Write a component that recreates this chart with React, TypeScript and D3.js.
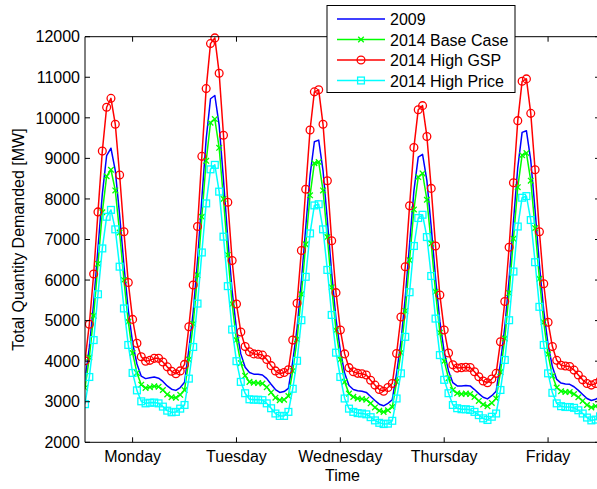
import React from 'react';
import * as d3 from 'd3';

// Hour index (1..120) covering Monday..Friday
const hours: number[] = Array.from({ length: 120 }, (_, i) => i + 1);
const dayTickHours = [12, 36, 60, 84, 108];
const dayLabels = ['Monday', 'Tuesday', 'Wednesday', 'Thursday', 'Friday'];
const yTicks = [2000, 3000, 4000, 5000, 6000, 7000, 8000, 9000, 10000, 11000, 12000];
const seriesNames = ['2009', '2014 Base Case', '2014 High GSP', '2014 High Price'];

const demand2009 = [
  3540, 4340, 5430, 6790, 8120, 9070, 9250, 8700, 7600, 6360, 5260, 4450, 3930, 3630, 3570, 3590, 3610, 3580, 3500, 3390, 3310, 3280, 3350, 3480,
  4290, 5210, 6480, 8010, 9480, 10470, 10550, 9820, 8470, 7010, 5730, 4790, 4180, 3850, 3720, 3680, 3680, 3660, 3570, 3430, 3300, 3230, 3250, 3330,
  3990, 4810, 5970, 7290, 8580, 9410, 9450, 8700, 7480, 6170, 5040, 4260, 3700, 3400, 3300, 3270, 3260, 3230, 3130, 3030, 2940, 2900, 2960, 3050,
  3700, 4480, 5570, 6890, 8200, 9030, 9100, 8450, 7310, 6050, 4980, 4230, 3760, 3470, 3390, 3390, 3400, 3390, 3300, 3200, 3110, 3070, 3150, 3260,
  3960, 4840, 6020, 7440, 8780, 9640, 9680, 8950, 7720, 6380, 5250, 4410, 3860, 3550, 3460, 3440, 3430, 3370, 3280, 3180, 3080, 3030, 3060, 3130,
];

const demandBase2014 = [
  3340, 4090, 5120, 6400, 7670, 8560, 8720, 8210, 7170, 6000, 4970, 4200, 3710, 3420, 3340, 3360, 3380, 3370, 3290, 3180, 3110, 3100, 3170, 3290,
  4040, 4920, 6120, 7560, 8940, 9880, 9970, 9260, 8000, 6620, 5410, 4520, 3950, 3640, 3490, 3470, 3460, 3450, 3360, 3230, 3100, 3040, 3050, 3140,
  3760, 4540, 5650, 6880, 8090, 8880, 8910, 8210, 7060, 5820, 4760, 4040, 3490, 3200, 3120, 3080, 3070, 3050, 2960, 2860, 2780, 2750, 2790, 2870,
  3490, 4210, 5240, 6490, 7740, 8540, 8630, 7980, 6900, 5710, 4700, 4000, 3580, 3290, 3210, 3190, 3200, 3190, 3120, 3020, 2930, 2890, 2970, 3080,
  3730, 4560, 5680, 7020, 8290, 9080, 9130, 8450, 7280, 6030, 4960, 4170, 3640, 3350, 3260, 3240, 3240, 3190, 3110, 3020, 2920, 2860, 2890, 2970,
];

const demandHighGSP = [
  4010, 4910, 6150, 7680, 9180, 10260, 10480, 9840, 8590, 7190, 5940, 5030, 4440, 4110, 4000, 4020, 4070, 4070, 3980, 3860, 3750, 3690, 3760, 3920,
  4850, 5880, 7320, 9050, 10720, 11830, 11970, 11100, 9570, 7920, 6480, 5410, 4720, 4360, 4230, 4180, 4170, 4150, 4040, 3890, 3760, 3690, 3720, 3790,
  4520, 5430, 6730, 8240, 9700, 10640, 10690, 9840, 8450, 6970, 5690, 4770, 4180, 3840, 3740, 3700, 3690, 3660, 3530, 3410, 3300, 3260, 3350, 3450,
  4190, 5090, 6330, 7830, 9270, 10200, 10300, 9540, 8260, 6840, 5630, 4770, 4200, 3910, 3830, 3840, 3850, 3845, 3740, 3615, 3510, 3470, 3560, 3700,
  4480, 5470, 6810, 8400, 9930, 10900, 10960, 10110, 8720, 7190, 5910, 4960, 4360, 4020, 3900, 3880, 3870, 3780, 3660, 3540, 3450, 3410, 3450, 3520,
];

const demandHighPrice = [
  2940, 3610, 4520, 5650, 6780, 7560, 7730, 7250, 6330, 5300, 4400, 3710, 3280, 3010, 2960, 2975, 2980, 2960, 2880, 2780, 2740, 2750, 2830, 2920,
  3570, 4350, 5420, 6680, 7890, 8730, 8840, 8180, 7070, 5850, 4780, 4000, 3490, 3210, 3060, 3050, 3050, 3040, 2960, 2840, 2710, 2650, 2650, 2750,
  3320, 4010, 5010, 6080, 7150, 7840, 7870, 7250, 6250, 5140, 4210, 3610, 3080, 2830, 2750, 2720, 2710, 2690, 2620, 2540, 2480, 2450, 2460, 2530,
  3080, 3700, 4600, 5700, 6840, 7530, 7610, 7060, 6100, 5050, 4150, 3540, 3210, 2920, 2840, 2815, 2815, 2800, 2750, 2670, 2590, 2550, 2630, 2710,
  3290, 4030, 5010, 6210, 7320, 8030, 8070, 7480, 6440, 5340, 4400, 3700, 3220, 2960, 2890, 2870, 2870, 2850, 2790, 2710, 2610, 2540, 2560, 2640,
];

const W = 597;
const H = 489;
const X0 = 85;
const X1 = 600;
const Y0 = 36.7;
const Y1 = 442.3;
const FONT = "'Liberation Sans', Arial, Helvetica, sans-serif";
const TICK = 5;

type Marker = 'none' | 'x' | 'o' | 's';

function MarkerShape({ kind, x, y, color }: { kind: Marker; x: number; y: number; color: string }) {
  if (kind === 'o') return <circle cx={x} cy={y} r={3.9} fill="none" stroke={color} strokeWidth={1.3} />;
  if (kind === 's')
    return <rect x={x - 3.4} y={y - 3.4} width={6.8} height={6.8} fill="none" stroke={color} strokeWidth={1.3} />;
  if (kind === 'x') {
    const s = 2.8;
    return (
      <g stroke={color} strokeWidth={1.3}>
        <line x1={x - s} y1={y - s} x2={x + s} y2={y + s} />
        <line x1={x - s} y1={y + s} x2={x + s} y2={y - s} />
      </g>
    );
  }
  return null;
}

export default function App() {
  const x = d3.scaleLinear().domain([1, 120]).range([X0, X1]);
  const y = d3.scaleLinear().domain([2000, 12000]).range([Y1, Y0]);

  const series = [
    { name: seriesNames[0], values: demand2009, color: '#0000ff', marker: 'none' as Marker },
    { name: seriesNames[1], values: demandBase2014, color: '#00ff00', marker: 'x' as Marker },
    { name: seriesNames[2], values: demandHighGSP, color: '#ff0000', marker: 'o' as Marker },
    { name: seriesNames[3], values: demandHighPrice, color: '#00ffff', marker: 's' as Marker },
  ];

  const line = d3
    .line<number>()
    .x((_, i) => x(hours[i]))
    .y((d) => y(d));

  const legX = 327;
  const legY = 5.5;
  const legW = 188;
  const legH = 87;
  const rowY = [19, 39.5, 60, 80.5];

  return (
    <svg
      width={W}
      height={H}
      style={{ position: 'absolute', left: 0, top: 0, background: '#fff' }}
      fontFamily={FONT}
    >
      <rect x={0} y={0} width={W} height={H} fill="#fff" />
      <defs>
        <clipPath id="plotclip">
          <rect x={X0} y={Y0 - 6} width={X1 - X0} height={Y1 - Y0 + 6} />
        </clipPath>
      </defs>

      {/* series */}
      <g clipPath="url(#plotclip)">
        {series.map((s) => (
          <g key={s.name}>
            <path d={line(s.values) || ''} fill="none" stroke={s.color} strokeWidth={1.5} strokeLinejoin="round" />
            {s.marker !== 'none' &&
              s.values.map((v, i) => (
                <MarkerShape key={i} kind={s.marker} x={x(hours[i])} y={y(v)} color={s.color} />
              ))}
          </g>
        ))}
      </g>

      {/* axes box */}
      <g stroke="#000" strokeWidth={1} fill="none">
        <line x1={X0} y1={Y0} x2={X1} y2={Y0} />
        <line x1={X0} y1={Y1} x2={X1} y2={Y1} />
        <line x1={X0} y1={Y0} x2={X0} y2={Y1} />
        <line x1={X1} y1={Y0} x2={X1} y2={Y1} />
        {yTicks.map((t) => (
          <g key={t}>
            <line x1={X0} y1={y(t)} x2={X0 + TICK} y2={y(t)} />
            <line x1={X1} y1={y(t)} x2={X1 - TICK} y2={y(t)} />
          </g>
        ))}
        {dayTickHours.map((h) => (
          <g key={h}>
            <line x1={x(h)} y1={Y1} x2={x(h)} y2={Y1 - TICK} />
            <line x1={x(h)} y1={Y0} x2={x(h)} y2={Y0 + TICK} />
          </g>
        ))}
      </g>

      {/* tick labels */}
      <g fontSize={16} fill="#000">
        {yTicks.map((t) => (
          <text key={t} x={X0 - 5} y={y(t) + 5.7} textAnchor="end">
            {t}
          </text>
        ))}
        {dayTickHours.map((h, i) => (
          <text key={h} x={x(h)} y={462} textAnchor="middle">
            {dayLabels[i]}
          </text>
        ))}
        <text x={(X0 + X1) / 2} y={481} textAnchor="middle">
          Time
        </text>
        <text transform={`translate(23.5, ${(Y0 + Y1) / 2}) rotate(-90)`} textAnchor="middle">
          Total Quantity Demanded [MW]
        </text>
      </g>

      {/* legend */}
      <g>
        <rect x={legX} y={legY} width={legW} height={legH} fill="#fff" stroke="#000" strokeWidth={1} />
        {series.map((s, i) => (
          <g key={s.name}>
            <line x1={337} y1={rowY[i]} x2={385} y2={rowY[i]} stroke={s.color} strokeWidth={1.5} />
            <MarkerShape kind={s.marker} x={361} y={rowY[i]} color={s.color} />
            <text x={390} y={rowY[i] + 6} fontSize={16} fill="#000">
              {s.name}
            </text>
          </g>
        ))}
      </g>
    </svg>
  );
}
